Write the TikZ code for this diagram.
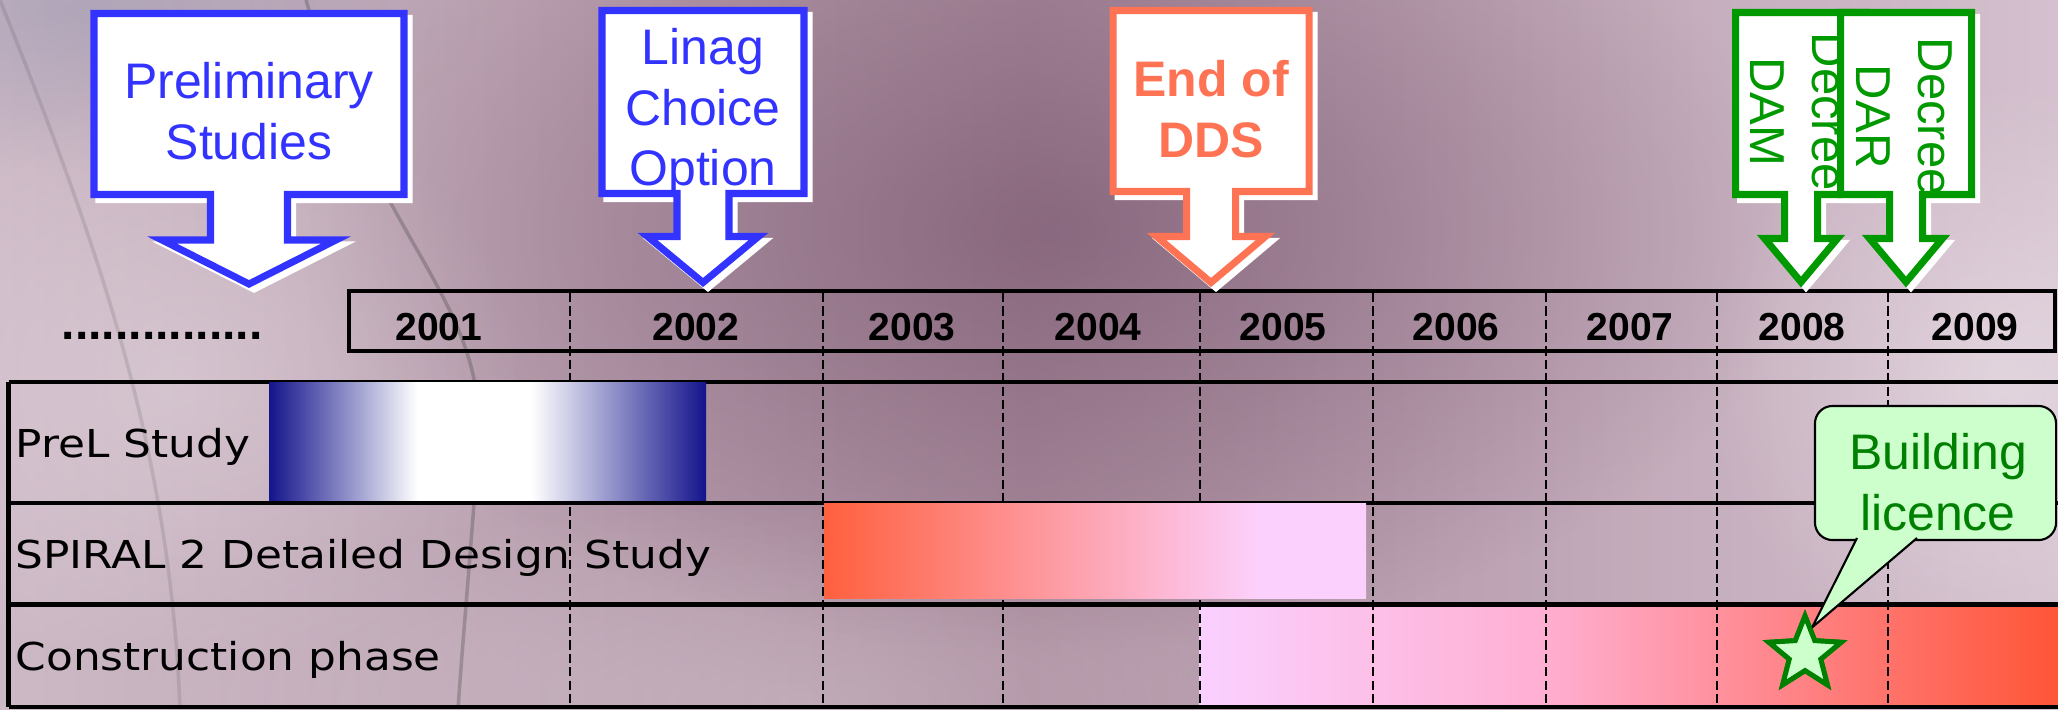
\documentclass[tikz,border=0pt]{standalone}
\usepackage{fontspec}
\setmainfont{Liberation Sans}
\newfontfamily\rowfont[FakeStretch=1.14]{DejaVu Sans}
\usetikzlibrary{shapes.geometric,fadings}

\definecolor{calloutblue}{RGB}{51,51,255}
\definecolor{ddsorange}{RGB}{255,115,85}
\definecolor{decreegreen}{RGB}{0,153,0}
\definecolor{licencegreen}{RGB}{0,128,0}
\definecolor{licencefill}{RGB}{204,255,204}
\definecolor{prelnavy}{RGB}{20,20,140}
\definecolor{ddsred}{RGB}{255,96,62}
\definecolor{lilac}{RGB}{252,208,252}
\definecolor{conslilac}{RGB}{250,208,255}
\definecolor{conspink}{RGB}{255,175,210}
\definecolor{consred}{RGB}{255,85,55}
\definecolor{bgleft}{RGB}{205,185,198}
\definecolor{bgmid}{RGB}{170,140,158}
\definecolor{bgright}{RGB}{212,192,206}
\definecolor{bgdark}{RGB}{110,75,100}
\definecolor{bggray}{RGB}{150,150,175}

\tikzfading[name=softspot, inner color=transparent!0, outer color=transparent!100]

\pgfdeclarehorizontalshading{prelshade}{100bp}{color(0bp)=(prelnavy); color(25bp)=(prelnavy);
        color(42bp)=(white); color(55bp)=(white); color(75bp)=(prelnavy); color(100bp)=(prelnavy)}
\pgfdeclarehorizontalshading{ddsshade}{100bp}{color(0bp)=(ddsred); color(25bp)=(ddsred);
        color(65bp)=(lilac); color(100bp)=(lilac)}
\pgfdeclarehorizontalshading{consshade}{100bp}{color(0bp)=(conslilac); color(25bp)=(conslilac);
        color(45bp)=(conspink); color(75bp)=(consred); color(100bp)=(consred)}

% box with a down arrow: style, centre x, box half width, top, box bottom,
% shaft half width, head half width, head top, tip
\newcommand{\downcallout}[9]{%
        \draw[#1] (#2-#3,#4) -- (#2+#3,#4) -- (#2+#3,#5) -- (#2+#6,#5) -- (#2+#6,#8)
                -- (#2+#7,#8) -- (#2,#9) -- (#2-#7,#8) -- (#2-#6,#8) -- (#2-#6,#5)
                -- (#2-#3,#5) -- cycle;
}

\begin{document}
\begin{tikzpicture}[x=0.01cm,y=-0.01cm,inner sep=0pt,
        ghost/.style={draw=white, fill=white, line width=2pt, shift={(5,5)}},
        bluearrow/.style={draw=calloutblue, fill=white, line width=2pt},
        ddsarrow/.style={draw=ddsorange, fill=white, line width=2pt},
        greenarrow/.style={draw=decreegreen, fill=white, line width=2pt},
        bluetext/.style={text=calloutblue, align=center, anchor=north, font=\fontsize{14.2}{17.2}\selectfont},
        ddstext/.style={text=ddsorange, align=center, anchor=north, font=\bfseries\fontsize{14.2}{17.1}\selectfont},
        greentext/.style={text=decreegreen, align=center, rotate=-90, anchor=north west, font=\fontsize{13.95}{17.6}\selectfont},
        yearlabel/.style={anchor=base, font=\bfseries\fontsize{11.1}{13}\selectfont},
        rowlabel/.style={anchor=base west, font=\rowfont\fontsize{10.93}{13}\selectfont},
        yearline/.style={draw=black, line width=0.6pt, dash pattern=on 2.6pt off 1.2pt},
        frame/.style={draw=black, line width=1.4pt},
        bgcurve/.style={draw=black!75, opacity=0.3, line width=1pt},
        licencebox/.style={draw=black, line width=0.6pt, fill=licencefill, rounded corners=5pt,
                minimum width=2.41cm, minimum height=1.34cm},
        licencetext/.style={text=licencegreen, align=center, anchor=north, font=\fontsize{14.2}{17.1}\selectfont},
        permitstar/.style={star, star points=5, star point ratio=2.3, minimum size=0.76cm,
                draw=licencegreen, line width=1.4pt, fill=licencefill}]

        \useasboundingbox (0,0) rectangle (2058,709);
        \shade[left color=bgleft, right color=bgright, middle color=bgmid] (0,0) rectangle (2058,709);
        \fill[bgdark, opacity=0.55, path fading=softspot] (1050,230) ellipse [x radius=750, y radius=420];
        \fill[bggray, opacity=0.5, path fading=softspot] (80,10) ellipse [x radius=400, y radius=160];
        \fill[white, opacity=0.35, path fading=softspot] (2000,380) ellipse [x radius=300, y radius=300];
        \fill[white, opacity=0.25, path fading=softspot] (180,380) ellipse [x radius=350, y radius=300];
        \fill[white, opacity=0.2, path fading=softspot] (800,700) ellipse [x radius=700, y radius=200];
        \draw[bgcurve] (306,0) .. controls (380,250) and (490,300) .. (478,450)
                .. controls (470,560) and (462,650) .. (458,709);
        \draw[bgcurve, opacity=0.15] (0,0) .. controls (100,250) and (170,450) .. (180,709);

        \shade[shading=consshade] (1199,606) rectangle (2058,704);

        \foreach \x in {570,823,1003,1200,1373,1546,1717,1888} {
                \draw[yearline] (\x,293) -- (\x,707);
        }

        \foreach \y in {382,503,604.5,707} {
                \draw[frame] (8.5,\y) -- (2070,\y);
        }
        \draw[frame] (8.5,382) -- (8.5,707);
        \draw[frame] (349,291) rectangle (2055,351);

        \foreach \yr/\xc in {2001/439,2002/696,2003/912,2004/1098,2005/1283,2006/1456,2007/1630,2008/1802,2009/1975} {
                \node[yearlabel] (y\yr) at (\xc,340) {\yr};
        }
        \node[anchor=base west, font=\bfseries\fontsize{13.7}{16}\selectfont] (before) at (61,339) {...............};

        \node[rowlabel] (prel) at (15,457) {PreL Study};
        \node[rowlabel] (dds) at (15,568) {SPIRAL 2 Detailed Design Study};
        \node[rowlabel] (cons) at (15,670) {Construction phase};

        \shade[shading=prelshade] (269,382) rectangle (706,500.7);
        \shade[shading=ddsshade] (824,503) rectangle (1366,598.7);

        \downcallout{ghost}{249}{155}{13.5}{194.5}{38.5}{87}{240}{284}
        \downcallout{bluearrow}{249}{155}{13.5}{194.5}{38.5}{87}{240}{284}
        \node[bluetext] (prelim) at (249,62) {Preliminary\\Studies};

        \downcallout{ghost}{703}{101}{10.5}{193.5}{26}{55.5}{236.5}{282.5}
        \downcallout{bluearrow}{703}{101}{10.5}{193.5}{26}{55.5}{236.5}{282.5}
        \node[bluetext] (linag) at (703,28) {Linag\\Choice\\Option};

        \downcallout{ghost}{1211}{98}{10.5}{191.5}{24.5}{54.5}{236.5}{282.5}
        \downcallout{ddsarrow}{1211}{98}{10.5}{191.5}{24.5}{54.5}{236.5}{282.5}
        \node[ddstext] (enddds) at (1211,60) {End of\\DDS};

        \downcallout{ghost}{1801}{65.5}{12.5}{194.5}{16.5}{36.5}{238.5}{282}
        \downcallout{greenarrow}{1801}{65.5}{12.5}{194.5}{16.5}{36.5}{238.5}{282}
        \node[greentext] (dam) at (1847,32) {Decree\\DAM};

        \downcallout{ghost}{1906}{65.5}{12.5}{194.5}{16.5}{36.5}{238.5}{282}
        \downcallout{greenarrow}{1906}{65.5}{12.5}{194.5}{16.5}{36.5}{238.5}{282}
        \node[greentext] (dar) at (1953,37) {Decree\\DAR};

        \node[licencebox] (licence) at (1935.5,473) {};
        \node[licencetext] (licencetxt) at (1938,433) {Building\\licence};
        \coordinate (lic-a) at (1857,538);
        \coordinate (lic-b) at (1917,538);
        \node[permitstar] (permit) at (1805,654) {};
        \filldraw[fill=licencefill, draw=black, line width=0.6pt] (lic-a) -- (permit.75) -- (lic-b);
        \node[permitstar] at (permit) {};

\end{tikzpicture}
\end{document}
